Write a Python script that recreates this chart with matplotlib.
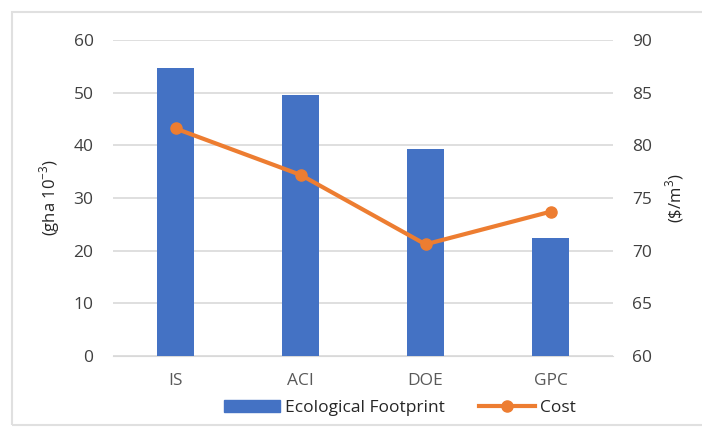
import matplotlib.pyplot as plt
from matplotlib.patches import Rectangle
from matplotlib.lines import Line2D

# data
categories = ['IS', 'ACI', 'DOE', 'GPC']
footprint = [54.6, 49.5, 39.3, 22.4]
cost = [81.6, 77.2, 70.6, 73.7]

blue = '#4472C4'
orange = '#ED7D31'
grey_text = '#404040'

plt.rcParams['font.family'] = ['Open Sans', 'DejaVu Sans']
plt.rcParams['mathtext.fontset'] = 'custom'
plt.rcParams['mathtext.rm'] = 'Open Sans'

fig = plt.figure(figsize=(7.02, 4.28), dpi=100)
ax = fig.add_axes([113/702, 1 - 356/428, 500/702, 316/428])

x = range(len(categories))
ax.bar(x, footprint, width=0.29, color=blue, zorder=3)
ax.set_xlim(-0.5, len(categories) - 0.5)
ax.set_ylim(0, 60)
ax.set_yticks(range(0, 61, 10))
ax.set_xticks(list(x))
ax.set_xticklabels(categories)
ax.grid(axis='y', color='#D9D9D9', linewidth=1.2, zorder=0)
ax.set_ylabel(r'(gha 10$^{\mathrm{-3}}$)', fontsize=12, color='#262626', labelpad=8)

ax2 = ax.twinx()
ax2.plot(x, cost, color=orange, linewidth=3, marker='o', markersize=8, zorder=4)
ax2.set_ylim(60, 90)
ax2.set_yticks(range(60, 91, 5))
ax2.set_ylabel(r'(\$/m$^{\mathrm{3}}$)', fontsize=12, color='#262626', labelpad=8)

for a in (ax, ax2):
    for s in a.spines.values():
        s.set_visible(False)
    a.tick_params(length=0, labelsize=12.5, colors=grey_text, pad=14)
ax.spines['bottom'].set_visible(True)
ax.spines['bottom'].set_color('#D9D9D9')
ax.tick_params(axis='x', pad=12, colors='#595959')

handles = [Rectangle((0, 0), 1, 1, color=blue),
           Line2D([], [], color=orange, linewidth=3, marker='o', markersize=8)]
fig.legend(handles, ['Ecological Footprint', 'Cost'], loc='center',
           bbox_to_anchor=(400/702, 1 - 408/428), ncol=2, frameon=False,
           fontsize=12.5, handlelength=3.2, handletextpad=0.3, columnspacing=2.0,
           labelcolor='#262626')

# chart border (open on the right)
fig.patches.append(Rectangle((12/702, 3/428), 730/702, 413/428, fill=False,
                             edgecolor='#E0E0E0', linewidth=1.5,
                             transform=fig.transFigure))

fig.savefig('out.png', dpi=100)
